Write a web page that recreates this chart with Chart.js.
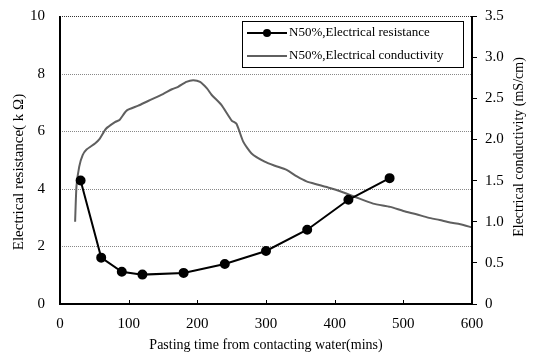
<!DOCTYPE html>
<html>
<head>
<meta charset="utf-8">
<script src="https://cdn.jsdelivr.net/npm/chart.js@4.4.0/dist/chart.umd.min.js"></script>
<style>
  html, body { margin: 0; padding: 0; background: #fff; }
  #wrap { width: 536px; height: 354px; }
</style>
</head>
<body>
<div id="wrap"><canvas id="mainChart" width="536" height="354"></canvas></div>
<script>
// resistance readings (k ohm) at discrete times
const timeRes = [30, 60, 90, 120, 180, 240, 300, 360, 420, 480];
const resistance = [4.29, 1.61, 1.12, 1.02, 1.08, 1.39, 1.84, 2.58, 3.62, 4.37];

// conductivity trace (mS/cm)
const timeCond = [22, 24, 28, 33, 39, 51, 58, 67, 80, 87, 97, 114, 129, 150, 163, 172, 184, 194, 204, 214, 221, 235, 250, 257, 267, 279, 298, 313, 330, 345, 359, 376, 393, 408, 430, 456, 481, 500, 519, 536, 553, 568, 583, 600];
const conductivity = [1.0, 1.43, 1.67, 1.81, 1.88, 1.95, 2.01, 2.13, 2.21, 2.24, 2.35, 2.41, 2.47, 2.55, 2.61, 2.64, 2.70, 2.72, 2.70, 2.62, 2.54, 2.42, 2.23, 2.19, 1.97, 1.83, 1.73, 1.68, 1.63, 1.55, 1.49, 1.45, 1.41, 1.37, 1.30, 1.22, 1.18, 1.13, 1.09, 1.05, 1.02, 0.99, 0.97, 0.93];

const xTicks = [0, 100, 200, 300, 400, 500, 600];
const yGrid = [2, 4, 6, 8, 10];
const legendLabels = ['N50%,Electrical resistance', 'N50%,Electrical conductivity'];
const yTitleLeft = 'Electrical resistance( k Ω)';
const yTitleRight = 'Electrical conductivity (mS/cm)';

const serif = "'Liberation Serif', 'Times New Roman', serif";
const greyLine = '#5f5f5f';

const extras = {
    id: 'extras',
    beforeDatasetsDraw(chart) {
        const ctx = chart.ctx;
        const a = chart.chartArea;
        const ys = chart.scales.y;
        ctx.save();
        ctx.lineWidth = 1;
        ctx.setLineDash([1, 1]);
        yGrid.forEach(v => {
            const py = Math.round(ys.getPixelForValue(v)) + 0.5;
            ctx.strokeStyle = v === 10 ? '#333' : '#888';
            ctx.beginPath();
            ctx.moveTo(a.left, py);
            ctx.lineTo(a.right, py);
            ctx.stroke();
        });
        ctx.restore();
    },
    afterDraw(chart) {
        const ctx = chart.ctx;
        const a = chart.chartArea;
        const xs = chart.scales.x;
        ctx.save();
        // inside tick marks on the x axis
        ctx.strokeStyle = '#000';
        ctx.lineWidth = 1;
        xTicks.forEach(t => {
            const px = Math.round(xs.getPixelForValue(t)) + 0.5;
            ctx.beginPath();
            ctx.moveTo(px, a.bottom);
            ctx.lineTo(px, a.bottom - 4);
            ctx.stroke();
        });
        // frame (left, bottom, right)
        ctx.lineWidth = 2;
        ctx.beginPath();
        ctx.moveTo(a.left, a.top);
        ctx.lineTo(a.left, a.bottom);
        ctx.lineTo(a.right, a.bottom);
        ctx.lineTo(a.right, a.top);
        ctx.stroke();

        // axis titles
        ctx.fillStyle = '#000';
        ctx.textAlign = 'center';
        ctx.textBaseline = 'middle';
        [[19, 172, yTitleLeft, 15], [519, 147, yTitleRight, 14]].forEach(([tx, ty, txt, fs]) => {
            ctx.save();
            ctx.font = fs + 'px ' + serif;
            ctx.translate(tx, ty);
            ctx.rotate(-Math.PI / 2);
            ctx.fillText(txt, 0, 0);
            ctx.restore();
        });

        // legend box
        const bx = a.left + 182, by = a.top + 5, bw = 221, bh = 46;
        ctx.fillStyle = '#fff';
        ctx.fillRect(bx, by, bw, bh);
        ctx.lineWidth = 1;
        ctx.strokeStyle = '#000';
        ctx.strokeRect(bx + 0.5, by + 0.5, bw, bh);
        const rows = [by + 12, by + 35];
        const colors = ['#000', greyLine];
        ctx.font = '13px ' + serif;
        ctx.textAlign = 'left';
        rows.forEach((ry, i) => {
            ctx.strokeStyle = colors[i];
            ctx.lineWidth = 2;
            ctx.beginPath();
            ctx.moveTo(bx + 5, ry);
            ctx.lineTo(bx + 45, ry);
            ctx.stroke();
            if (i === 0) {
                ctx.fillStyle = '#000';
                ctx.beginPath();
                ctx.arc(bx + 25, ry, 4, 0, Math.PI * 2);
                ctx.fill();
            }
            ctx.fillStyle = '#000';
            ctx.fillText(legendLabels[i], bx + 47, ry);
        });
        ctx.restore();
    }
};

const fixY = w => s => { s.width = w; s.paddingTop = 0; s.paddingBottom = 0; };

new Chart(document.getElementById('mainChart').getContext('2d'), {
    type: 'line',
    data: {
        datasets: [
            {
                label: legendLabels[0],
                data: timeRes.map((t, i) => ({ x: t, y: resistance[i] })),
                borderColor: '#000',
                backgroundColor: '#000',
                borderWidth: 2,
                pointRadius: 4,
                pointHoverRadius: 4,
                tension: 0,
                yAxisID: 'y',
                order: 1
            },
            {
                label: legendLabels[1],
                data: timeCond.map((t, i) => ({ x: t, y: conductivity[i] })),
                borderColor: greyLine,
                borderWidth: 2,
                pointRadius: 0,
                tension: 0.2,
                yAxisID: 'y2',
                order: 2
            }
        ]
    },
    options: {
        responsive: false,
        animation: false,
        layout: { padding: { top: 16, right: 0, left: 0, bottom: 0 } },
        plugins: { legend: { display: false }, tooltip: { enabled: false } },
        scales: {
            x: {
                type: 'linear',
                min: 0, max: 600,
                afterBuildTicks: s => { s.ticks = xTicks.map(v => ({ value: v })); },
                afterFit: s => { s.height = 50; s.paddingLeft = 0; s.paddingRight = 0; },
                grid: { display: false, drawTicks: false },
                border: { display: false },
                ticks: { color: '#000', padding: 11, font: { family: serif, size: 15 } },
                title: {
                    display: true,
                    text: 'Pasting time from contacting water(mins)',
                    color: '#000',
                    font: { family: serif, size: 14 },
                    padding: { top: 0, bottom: 0 }
                }
            },
            y: {
                position: 'left',
                min: 0, max: 10,
                afterFit: fixY(60),
                ticks: { stepSize: 2, color: '#000', padding: 15, font: { family: serif, size: 15 } },
                grid: { display: false, drawTicks: false },
                border: { display: false }
            },
            y2: {
                position: 'right',
                min: 0, max: 3.5,
                afterFit: fixY(64),
                ticks: { stepSize: 0.5, color: '#000', padding: 8, font: { family: serif, size: 15 } },
                grid: { drawOnChartArea: false, tickLength: 5, color: '#000' },
                border: { display: false }
            }
        }
    },
    plugins: [extras]
});
</script>
</body>
</html>
